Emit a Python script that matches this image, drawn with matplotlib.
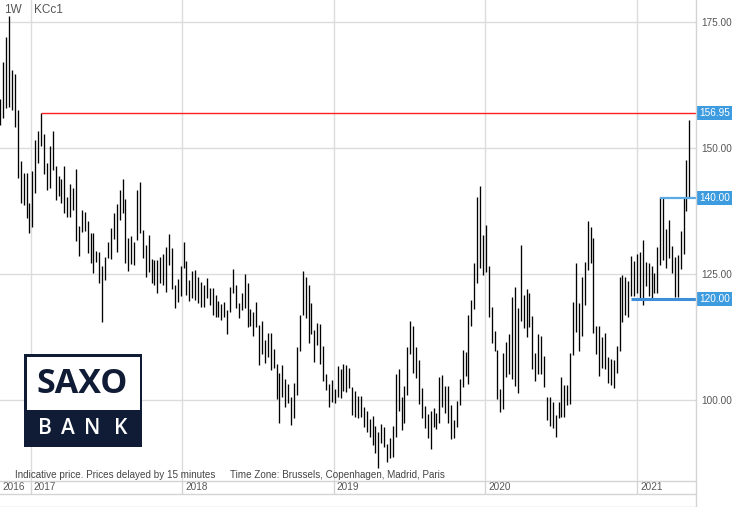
import matplotlib
matplotlib.use('Agg')
import matplotlib.pyplot as plt
import matplotlib.transforms as mtransforms
from matplotlib.patches import Rectangle
from matplotlib.ticker import FormatStrFormatter
import pandas as pd

# ---- data (weekly high / low of KCc1) ----
highs = [159.7, 167.0, 172.0, 176.1, 165.4, 164.6, 157.5, 147.4, 145.0, 145.0,
         139.1, 145.4, 151.5, 153.3, 156.95, 152.7, 147.0, 150.3, 153.3, 146.4,
         144.4, 143.8, 146.4, 140.2, 142.8, 142.0, 145.8, 134.5, 137.7, 137.3,
         135.5, 133.1, 133.1, 129.5, 129.3, 126.6, 128.3, 131.3, 134.1, 137.1,
         138.8, 141.6, 143.8, 139.8, 132.1, 132.5, 131.3, 141.6, 143.2, 133.7,
         130.7, 132.7, 127.9, 127.7, 127.7, 128.3, 128.9, 130.3, 132.9, 130.1,
         122.8, 124.0, 126.6, 131.3, 127.5, 123.8, 125.6, 125.8, 124.4, 123.4,
         122.8, 124.2, 122.2, 122.2, 120.8, 119.6, 119.0, 119.4, 117.8, 122.4,
         126.0, 122.8, 119.2, 121.2, 125.0, 123.2, 118.0, 117.4, 119.4, 114.9,
         115.6, 111.9, 113.3, 113.3, 110.1, 107.1, 105.3, 106.9, 104.1, 103.2,
         100.6, 103.4, 110.5, 116.8, 125.6, 124.4, 122.8, 119.2, 113.9, 115.2,
         115.0, 110.7, 105.1, 103.2, 103.9, 102.2, 106.7, 106.1, 107.1, 106.9,
         106.3, 102.6, 101.8, 100.8, 100.8, 98.6, 97.8, 96.2, 96.8, 94.8,
         93.6, 95.2, 94.6, 91.3, 92.4, 94.8, 105.1, 106.1, 100.6, 102.8,
         110.5, 115.6, 114.7, 110.5, 107.9, 102.4, 98.8, 97.2, 97.8, 98.4,
         97.4, 104.5, 104.9, 102.8, 102.8, 99.0, 96.0, 99.8, 104.1, 109.9,
         109.5, 116.8, 119.8, 127.1, 140.2, 142.4, 132.7, 134.7, 126.6, 118.4,
         113.7, 109.9, 102.2, 109.3, 111.5, 113.1, 120.4, 122.4, 118.2, 130.7,
         120.8, 122.0, 121.2, 116.6, 109.3, 113.1, 112.7, 108.7, 100.6, 100.6,
         99.6, 97.0, 99.6, 104.5, 103.0, 103.0, 109.3, 119.4, 127.1, 119.2,
         124.4, 127.3, 135.5, 134.3, 132.1, 114.7, 114.7, 112.5, 113.3, 108.5,
         108.1, 107.9, 110.7, 124.4, 124.8, 124.4, 123.6, 128.5, 127.5, 128.9,
         129.3, 131.7, 127.3, 127.1, 126.6, 125.2, 130.3, 140.2, 140.0, 133.9,
         135.7, 130.5, 128.3, 128.7, 133.5, 140.2, 147.6, 155.5]

lows = [154.5, 155.9, 157.9, 158.1, 157.5, 154.1, 144.0, 139.1, 138.6, 136.1,
        133.1, 134.3, 141.0, 147.0, 150.3, 144.8, 141.6, 142.0, 145.6, 139.6,
        140.4, 139.1, 137.1, 136.3, 136.3, 137.7, 131.5, 128.5, 133.3, 133.5,
        129.1, 127.2, 125.2, 127.3, 123.2, 115.4, 123.8, 128.1, 127.9, 131.9,
        129.3, 135.7, 137.1, 127.2, 125.6, 127.0, 126.8, 131.7, 133.1, 128.1,
        124.4, 125.4, 123.2, 122.8, 121.2, 123.2, 122.8, 121.4, 126.8, 122.0,
        118.2, 119.4, 120.6, 126.2, 120.8, 119.6, 120.2, 119.8, 119.2, 118.4,
        118.4, 120.2, 118.8, 116.8, 116.4, 116.4, 115.8, 116.4, 113.1, 117.4,
        121.2, 118.2, 116.2, 117.8, 118.2, 114.5, 114.7, 112.7, 114.5, 106.9,
        109.1, 107.3, 108.5, 105.9, 106.3, 100.2, 95.4, 100.6, 98.6, 99.4,
        95.0, 96.4, 101.0, 109.7, 116.8, 116.2, 111.3, 113.1, 107.5, 110.9,
        107.1, 103.7, 102.0, 98.6, 99.6, 99.4, 100.6, 100.4, 101.8, 101.6,
        102.4, 97.0, 96.6, 96.4, 96.6, 94.6, 93.6, 92.6, 91.1, 89.5,
        86.5, 91.5, 90.7, 87.7, 88.5, 88.7, 92.6, 97.8, 94.0, 95.4,
        101.0, 109.1, 105.3, 104.3, 99.2, 96.4, 94.4, 92.4, 90.3, 94.6,
        94.2, 95.4, 98.6, 97.4, 95.4, 92.2, 92.4, 94.6, 99.0, 102.6,
        104.7, 103.2, 114.7, 118.0, 123.2, 126.2, 124.8, 125.4, 116.4, 111.3,
        109.7, 100.2, 97.6, 98.2, 104.5, 105.1, 104.1, 102.8, 101.4, 115.6,
        114.3, 112.5, 114.5, 106.1, 103.7, 105.1, 105.1, 102.6, 96.0, 94.8,
        94.4, 92.6, 96.4, 96.6, 96.6, 99.0, 99.2, 108.9, 113.5, 109.7,
        112.7, 118.8, 125.8, 127.2, 113.3, 109.1, 104.7, 106.3, 106.1, 103.4,
        103.0, 102.4, 105.3, 109.7, 115.4, 116.8, 116.4, 120.6, 120.6, 121.2,
        119.8, 118.8, 122.6, 120.6, 120.2, 121.2, 121.2, 126.8, 127.7, 126.2,
        128.1, 125.2, 120.4, 120.4, 126.0, 129.0, 137.5, 140.0]

dates = pd.date_range('2016-10-20', periods=len(highs), freq='7D')

y_ticks = [100, 125, 150, 175]
year_starts = pd.to_datetime(['2017-01-01', '2018-01-01', '2019-01-01',
                              '2020-01-01', '2021-01-01'])
year_labels = ['2017', '2018', '2019', '2020', '2021']
first_label = '2016'

# horizontal levels: value, index of the week where the line starts
level_values = [156.95, 140.00, 120.00]
level_start_idx = [14, 227, 217]
level_colors = ['#ff2020', '#5aaae6', '#3c8fd8']
level_widths = [1.0, 1.6, 2.2]

# ---- figure ----
W, H = 735, 507
fig = plt.figure(figsize=(W / 100, H / 100), dpi=100)
fig.patch.set_facecolor('white')

PLOT_R = 696
PLOT_B = 481
ax = fig.add_axes([0, (H - PLOT_B) / H, PLOT_R / W, PLOT_B / H])
xmin, xmax = pd.Timestamp('2016-10-19'), pd.Timestamp('2021-05-22')

ax.vlines(dates, lows, highs, color='black', linewidth=0.95, zorder=3)
ax.set_xlim(xmin, xmax)
ax.set_ylim(83.94, 179.30)
ax.set_xticks(year_starts)
ax.set_yticks(y_ticks)
ax.grid(True, color='#dcdcdc', linewidth=1.0, zorder=0)
ax.tick_params(axis='x', length=0, labelbottom=False)
ax.yaxis.tick_right()
ax.tick_params(axis='y', length=0, pad=4, labelsize=7.2, labelcolor='#555555')
ax.yaxis.set_major_formatter(FormatStrFormatter('%.2f'))
for lab in ax.get_yticklabels():
    lab.set_family('Liberation Sans')
for s in ['top', 'left', 'bottom', 'right']:
    ax.spines[s].set_visible(False)

# level lines and label boxes
trans_lab = mtransforms.blended_transform_factory(ax.transAxes, ax.transData)
for v, i, c, lw in zip(level_values, level_start_idx, level_colors, level_widths):
    ax.plot([dates[i], xmax], [v, v], color=c, linewidth=lw, zorder=4,
            solid_capstyle='butt')
for v in level_values:
    ax.plot([1.004], [v], marker='<', color='#3d9be0', markersize=5,
            transform=trans_lab, clip_on=False, zorder=5)
    ax.text(1.027, v, f'{v:.2f}', transform=trans_lab, ha='center', va='center',
            fontsize=7.2, color='white', family='Liberation Sans', zorder=6,
            bbox=dict(boxstyle='square,pad=0.22', fc='#3d9be0', ec='none'))

# right border line
fig.add_artist(plt.Line2D([PLOT_R / W, PLOT_R / W], [0, 1], color='#d4d4d4',
                          linewidth=1.0, transform=fig.transFigure))

# date band
band = fig.add_axes([0, (H - 494) / H, PLOT_R / W, 13 / H], sharex=ax)
band.set_ylim(0, 1)
band.axis('off')
band.vlines(year_starts, 0, 1, color='#d4d4d4', linewidth=1.0)
for d, lab in zip(year_starts, year_labels):
    band.annotate(lab, xy=(d, 0.5), xytext=(3, 0), textcoords='offset pixels',
                  ha='left', va='center', fontsize=7.2, color='#555555',
                  family='Liberation Sans')
band.text(2 / PLOT_R, 0.5, first_label, transform=band.transAxes, ha='left',
          va='center', fontsize=7.2, color='#555555', family='Liberation Sans')
for yy in [481, 494, 506.5]:
    fig.add_artist(plt.Line2D([0, PLOT_R / W], [1 - yy / H, 1 - yy / H],
                              color='#d4d4d4', linewidth=1.0,
                              transform=fig.transFigure))

# header texts
fig.text(4 / W, 1 - 10 / H, '1W', ha='left', va='center', fontsize=8.5,
         color='#555555', family='Liberation Sans')
fig.text(34 / W, 1 - 10 / H, 'KCc1', ha='left', va='center', fontsize=8.5,
         color='#555555', family='Liberation Sans')

# footnote
fig.text(15 / W, 1 - 475 / H, 'Indicative price. Prices delayed by 15 minutes',
         ha='left', va='center', fontsize=7.1, color='#444444',
         family='Liberation Sans')
fig.text(230 / W, 1 - 475 / H, 'Time Zone: Brussels, Copenhagen, Madrid, Paris',
         ha='left', va='center', fontsize=7.1, color='#444444',
         family='Liberation Sans')

# SAXO BANK logo
navy = '#101c35'
def px_rect(x0, y0, x1, y1, **kw):
    return Rectangle((x0 / W, 1 - y1 / H), (x1 - x0) / W, (y1 - y0) / H,
                     transform=fig.transFigure, **kw)
fig.add_artist(px_rect(24, 354, 142, 447, fc=navy, ec='none', zorder=10))
fig.add_artist(px_rect(26.5, 356.5, 139.5, 410, fc='white', ec='none', zorder=11))
fig.text(82.5 / W, 1 - 384 / H, 'SAXO', ha='center', va='center', fontsize=24.5,
         fontweight='bold', color=navy, family='Open Sans', zorder=12)
for lx, letter in zip([45, 68, 92.5, 120.5], ['B', 'A', 'N', 'K']):
    fig.text(lx / W, 1 - 429 / H, letter, ha='center', va='center', fontsize=15,
             fontweight='semibold', color='white', family='Open Sans', zorder=12)

fig.savefig('out.png', dpi=100, facecolor='white')
